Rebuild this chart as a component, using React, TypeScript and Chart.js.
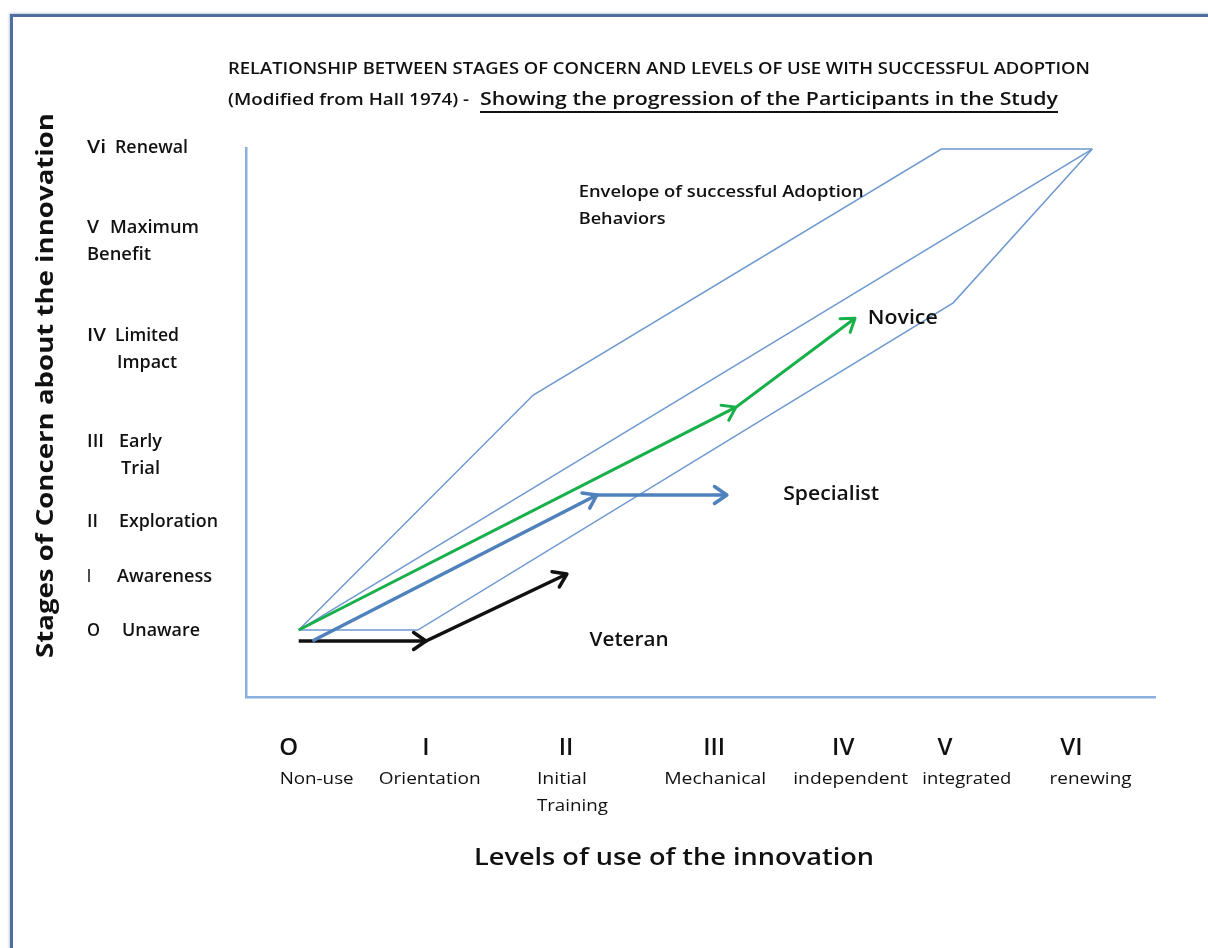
import React, { useEffect, useRef } from "react";
import { Chart, registerables } from "chart.js";

Chart.register(...registerables);

// ---------------- Data (plot units: 0–100 on both axes) ----------------
const titleLine1 = "RELATIONSHIP BETWEEN STAGES OF CONCERN AND LEVELS OF USE WITH SUCCESSFUL ADOPTION";
const titleLine2a = "(Modified from Hall 1974) - ";
const titleLine2b = "Showing the progression of the Participants in the Study";
const xAxisTitle = "Levels of use of the innovation";
const yAxisTitle = "Stages of Concern about the innovation";

// Levels of use (x axis)
const levelNumerals = ["O", "I", "II", "III", "IV", "V", "VI"];
const levelNumeralX = [4.7, 19.8, 35.2, 51.5, 65.7, 76.9, 90.8];
const levelNames = [["Non-use"], ["Orientation"], ["Initial", "Training"], ["Mechanical"], ["independent"], ["integrated"], ["renewing"]];
const levelNameX = [3.7, 14.6, 32.0, 46.0, 60.2, 74.4, 88.4];

// Stages of concern (y axis)
const stageNumerals = ["Vi", "V", "IV", "III", "II", "I", "O"];
const stageNames = [["Renewal"], ["Maximum", "Benefit"], ["Limited", "Impact"], ["Early", "Trial"], ["Exploration"], ["Awareness"], ["Unaware"]];
const stageY = [100.2, 85.6, 65.9, 46.6, 32.1, 22.0, 12.2];

// Envelope of successful adoption behaviours
const envelopeUpperX = [5.8, 31.6, 76.5, 93.1];
const envelopeUpperY = [12.2, 55.0, 99.8, 99.8];
const envelopeMiddleX = [5.8, 93.1];
const envelopeMiddleY = [12.2, 99.8];
const envelopeLowerX = [5.8, 18.9, 77.8, 93.1];
const envelopeLowerY = [12.2, 12.2, 71.8, 99.8];

// Participant progressions
const noviceX = [5.8, 53.9, 67.0];
const noviceY = [12.2, 52.8, 69.0];
const specialistX = [7.3, 38.6, 52.9];
const specialistY = [10.2, 36.8, 36.8];
const veteranX = [5.8, 19.8, 35.3];
const veteranY = [10.2, 10.2, 22.4];

// Annotations
const annotationTexts = [["Envelope of successful Adoption", "Behaviors"], ["Novice"], ["Specialist"], ["Veteran"]];
const annotationX = [36.6, 68.4, 59.1, 37.8];
const annotationY = [92.0, 69.0, 36.8, 10.2];

// ---------------- Layout / style (pixels) ----------------
const FONT = "'Open Sans', 'DejaVu Sans', sans-serif";
const TEXT_COLOR = "#111111";
const LINE_GAP = 27;
const stageNumLeft = 87;
const stageNumWidth = [19, 12, 19, 17, 11, 4, 13];
const stageNameLeft = [[115], [110, 87], [115, 117], [119, 121], [119], [117], [122]];
const stageNameWidth = [[73], [89, 64], [64, 60], [43, 39], [99], [95], [78]];
const levelNameWidth = [[74], [102], [50, 71], [102], [115], [89], [82]];
const annotationWidth = [[285, 87], [70], [96], [79]];
const annotationFont = ["600 17px", "600 19px", "600 19px", "600 19px"];

const mk = (xs: number[], ys: number[]) => xs.map((x, i) => ({ x, y: ys[i] }));

function fitText(ctx: CanvasRenderingContext2D, text: string, x: number, y: number, width?: number, align: CanvasTextAlign = "left") {
  const w = ctx.measureText(text).width;
  const s = width ? width / w : 1;
  ctx.save();
  ctx.translate(x, y);
  ctx.scale(s, 1);
  ctx.textAlign = align;
  ctx.fillText(text, 0, 0);
  ctx.restore();
}

const arrowPlugin = {
  id: "arrowHeads",
  afterDatasetsDraw(chart: any) {
    const ctx = chart.ctx as CanvasRenderingContext2D;
    chart.data.datasets.forEach((ds: any, i: number) => {
      if (!ds.arrows) return;
      const pts = chart.getDatasetMeta(i).data;
      ctx.save();
      ctx.strokeStyle = ds.borderColor;
      ctx.lineWidth = ds.borderWidth;
      ctx.lineCap = "round";
      ctx.lineJoin = "round";
      for (let k = 1; k < pts.length; k++) {
        const a = pts[k - 1];
        const b = pts[k];
        const ang = Math.atan2(b.y - a.y, b.x - a.x);
        const L = 15;
        const spread = 0.6;
        ctx.beginPath();
        ctx.moveTo(b.x - L * Math.cos(ang - spread), b.y - L * Math.sin(ang - spread));
        ctx.lineTo(b.x, b.y);
        ctx.lineTo(b.x - L * Math.cos(ang + spread), b.y - L * Math.sin(ang + spread));
        ctx.stroke();
      }
      ctx.restore();
    });
  },
};

const textPlugin = {
  id: "diagramText",
  afterDraw(chart: any) {
    const ctx = chart.ctx as CanvasRenderingContext2D;
    const xs = chart.scales.x;
    const ys = chart.scales.y;
    const area = chart.chartArea;
    ctx.save();
    ctx.fillStyle = TEXT_COLOR;
    ctx.textBaseline = "middle";

    // Title
    ctx.font = `600 16px ${FONT}`;
    fitText(ctx, titleLine1, 228, 69, 862);
    ctx.font = `600 17px ${FONT}`;
    fitText(ctx, titleLine2a, 228, 100, 246);
    ctx.font = `600 18px ${FONT}`;
    fitText(ctx, titleLine2b, 480, 100, 578);
    ctx.fillRect(480, 111, 578, 2);

    // Y axis title
    ctx.save();
    ctx.translate(46, (area.top + area.bottom) / 2 - 37);
    ctx.rotate(-Math.PI / 2);
    ctx.font = `700 23px ${FONT}`;
    fitText(ctx, yAxisTitle, 0, 0, 545, "center");
    ctx.restore();

    // X axis title
    ctx.font = `600 23px ${FONT}`;
    fitText(ctx, xAxisTitle, 674, 858, 400, "center");

    // Stage labels (y)
    stageNumerals.forEach((num, i) => {
      const py = ys.getPixelForValue(stageY[i]) + 1;
      ctx.font = `600 18px ${FONT}`;
      fitText(ctx, num, stageNumLeft, py, stageNumWidth[i]);
      stageNames[i].forEach((line, j) => {
        fitText(ctx, line, stageNameLeft[i][j], py + j * LINE_GAP, stageNameWidth[i][j]);
      });
    });

    // Level labels (x)
    const numY = area.bottom + 51;
    levelNumerals.forEach((num, i) => {
      ctx.font = `600 24px ${FONT}`;
      fitText(ctx, num, xs.getPixelForValue(levelNumeralX[i]), numY, undefined, "center");
      ctx.font = `500 17px ${FONT}`;
      levelNames[i].forEach((line, j) => {
        fitText(ctx, line, xs.getPixelForValue(levelNameX[i]), numY + 31 + j * LINE_GAP, levelNameWidth[i][j]);
      });
    });

    // Annotations
    annotationTexts.forEach((lines, i) => {
      ctx.font = `${annotationFont[i]} ${FONT}`;
      const px = xs.getPixelForValue(annotationX[i]);
      const py = ys.getPixelForValue(annotationY[i]);
      lines.forEach((line, j) => fitText(ctx, line, px, py + j * LINE_GAP, annotationWidth[i][j]));
    });

    ctx.restore();
  },
};

export default function App() {
  const canvasRef = useRef<HTMLCanvasElement | null>(null);

  useEffect(() => {
    if (!canvasRef.current) return;
    const lineDs = (label: string, data: any[], color: string, width: number, arrows = false) => ({
      label,
      data,
      borderColor: color,
      backgroundColor: color,
      borderWidth: width,
      showLine: true,
      pointRadius: 0,
      pointHoverRadius: 0,
      tension: 0,
      fill: false,
      arrows,
    });
    const chart = new Chart(canvasRef.current, {
      type: "scatter",
      data: {
        datasets: [
          lineDs("Novice", mk(noviceX, noviceY), "#17b04a", 3, true),
          lineDs("Specialist", mk(specialistX, specialistY), "#4f81bd", 3.5, true),
          lineDs("Veteran", mk(veteranX, veteranY), "#111111", 3.5, true),
          lineDs("Envelope upper", mk(envelopeUpperX, envelopeUpperY), "#6e98d0", 1.5),
          lineDs("Envelope middle", mk(envelopeMiddleX, envelopeMiddleY), "#6e98d0", 1.5),
          lineDs("Envelope lower", mk(envelopeLowerX, envelopeLowerY), "#6e98d0", 1.5),
        ] as any,
      },
      options: {
        animation: false,
        responsive: true,
        maintainAspectRatio: false,
        layout: { padding: { left: 246, top: 148, right: 53, bottom: 251 } },
        plugins: { legend: { display: false }, tooltip: { enabled: false }, title: { display: false } },
        events: [],
        scales: {
          x: {
            type: "linear",
            min: 0,
            max: 100,
            ticks: { display: false },
            grid: { display: false, drawTicks: false, tickLength: 0 },
            border: { display: true, color: "#8cb0de", width: 2.5 },
          },
          y: {
            type: "linear",
            min: 0,
            max: 100,
            ticks: { display: false },
            grid: { display: false, drawTicks: false, tickLength: 0 },
            border: { display: true, color: "#8cb0de", width: 2.5 },
          },
        },
      },
      plugins: [arrowPlugin, textPlugin],
    });
    return () => chart.destroy();
  }, []);

  return (
    <div style={{ position: "fixed", left: 0, top: 0, width: 1208, height: 948, background: "#ffffff", overflow: "hidden" }}>
      <div
        style={{
          position: "absolute",
          left: 10,
          top: 14,
          width: 1300,
          height: 1000,
          borderTop: "3px solid #4f6d9e",
          borderLeft: "3px solid #4f6d9e",
          boxShadow: "-1px -1px 2px rgba(79,109,158,0.35)",
        }}
      />
      <div style={{ position: "absolute", left: 0, top: 0, width: 1208, height: 948 }}>
        <canvas ref={canvasRef} />
      </div>
    </div>
  );
}
